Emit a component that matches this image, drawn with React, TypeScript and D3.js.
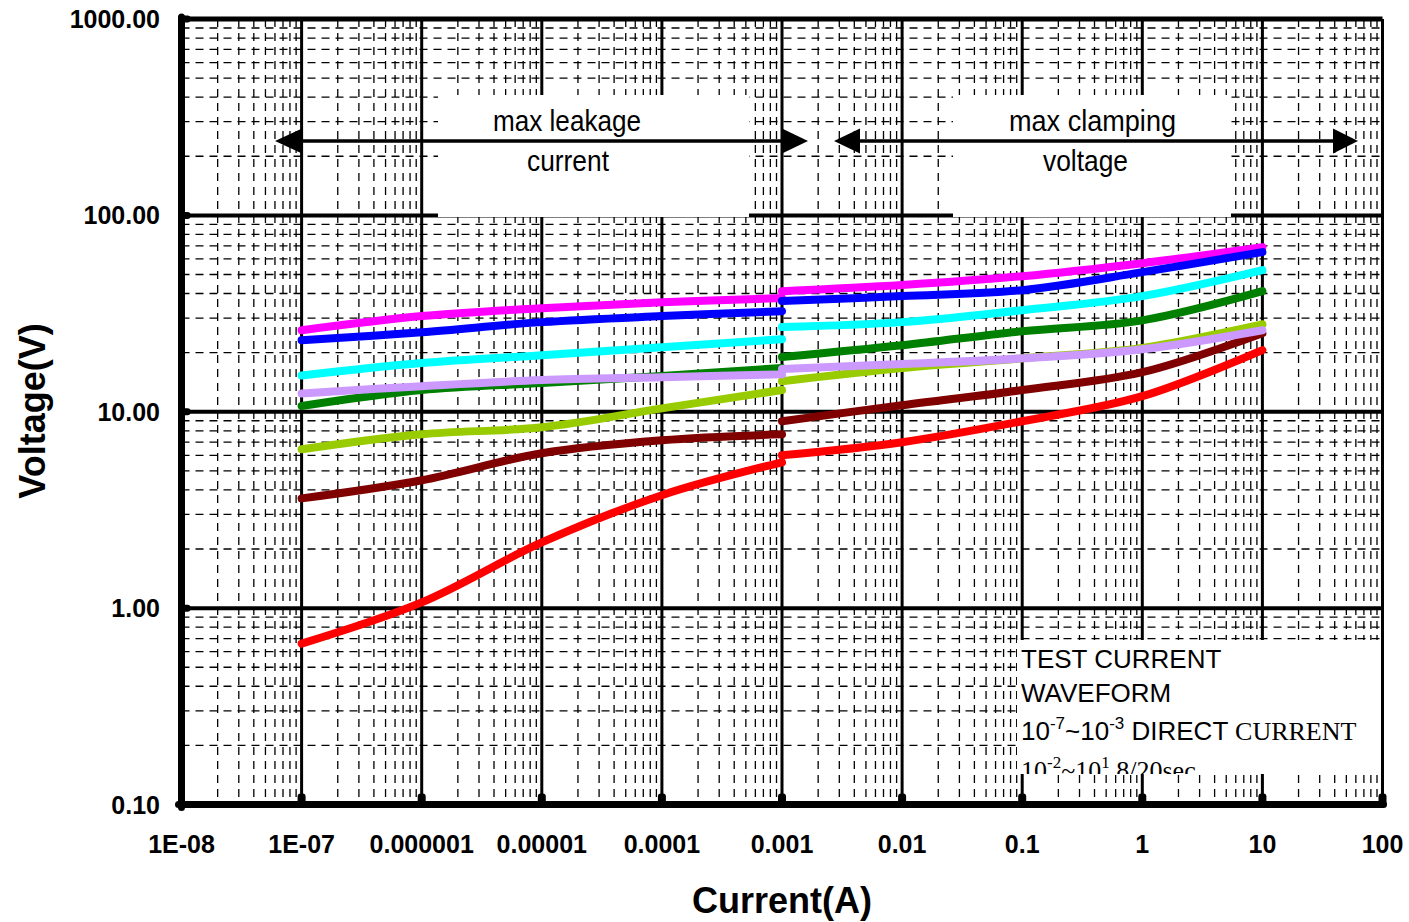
import React from "react";
import * as d3 from "d3";

// ---- data ----
const leakageCurrents = [1e-7, 1e-6, 1e-5, 1e-4, 1e-3];
const clampCurrents = [1e-3, 1e-2, 1e-1, 1, 10];

const seriesNames = ["magenta", "blue", "cyan", "green", "yellowgreen", "darkred", "lavender", "red"];
const seriesColors = ["#FF00FF", "#0000FF", "#00FFFF", "#008000", "#99CC00", "#800000", "#CC99FF", "#FF0000"];

const leakMagenta = [26.0, 30.7, 33.7, 36.1, 37.9];
const clampMagenta = [41.1, 44.2, 49.0, 57.1, 68.8];
const leakBlue = [23.1, 25.4, 28.6, 30.7, 32.5];
const clampBlue = [36.6, 38.8, 41.6, 51.4, 65.0];
const leakCyan = [15.3, 17.7, 19.4, 21.3, 23.4];
const clampCyan = [27.0, 28.6, 32.9, 38.8, 52.6];
const leakGreen = [10.7, 12.9, 14.0, 15.2, 16.7];
const clampGreen = [19.0, 21.8, 25.7, 29.2, 41.1];
const leakYellowGreen = [6.44, 7.68, 8.34, 10.4, 12.9];
const clampYellowGreen = [14.3, 16.7, 18.7, 21.1, 27.9];
const leakDarkRed = [3.62, 4.48, 6.15, 7.16, 7.68];
const clampDarkRed = [8.95, 10.8, 12.9, 15.9, 25.1];
const leakLavender = [12.4, 13.5, 14.5, 15.0, 15.5];
const clampLavender = [16.5, 17.5, 18.7, 20.8, 26.0];
const leakRed = [0.66, 1.07, 2.16, 3.76, 5.53];
const clampRed = [6.0, 7.0, 8.95, 12.0, 20.6];

const leakSeries = [leakMagenta, leakBlue, leakCyan, leakGreen, leakYellowGreen, leakDarkRed, leakLavender, leakRed];
const clampSeries = [clampMagenta, clampBlue, clampCyan, clampGreen, clampYellowGreen, clampDarkRed, clampLavender, clampRed];

const xTickValues = [1e-8, 1e-7, 1e-6, 1e-5, 1e-4, 1e-3, 1e-2, 1e-1, 1, 10, 100];
const xTickLabels = ["1E-08", "1E-07", "0.000001", "0.00001", "0.0001", "0.001", "0.01", "0.1", "1", "10", "100"];
const yTickValues = [0.1, 1, 10, 100, 1000];
const yTickLabels = ["0.10", "1.00", "10.00", "100.00", "1000.00"];

const W = 1409;
const H = 922;

export default function App() {
  const x = d3.scaleLog().domain([1e-8, 100]).range([181.5, 1382.5]);
  const y = d3.scaleLog().domain([0.1, 1000]).range([804.5, 19]);

  const xMinor: number[] = [];
  for (let e = -8; e < 2; e++) for (let i = 2; i <= 9; i++) xMinor.push(i * Math.pow(10, e));
  const yMinor: number[] = [];
  for (let e = -1; e < 3; e++) for (let i = 2; i <= 9; i++) yMinor.push(i * Math.pow(10, e));

  const line = d3
    .line<[number, number]>()
    .x((d) => x(d[0]))
    .y((d) => y(d[1]))
    .curve(d3.curveCatmullRom.alpha(0.5));

  const [x0, x1] = x.range();
  const [yb, yt] = y.range();
  const font = "'Liberation Sans', Arial, sans-serif";
  const serif = "'Liberation Serif', 'Times New Roman', serif";

  return (
    <svg width={W} height={H} style={{ position: "absolute", left: 0, top: 0, background: "#fff" }}>
      <defs>
        <clipPath id="legclip">
          <rect x={1017} y={640} width={365} height={134} />
        </clipPath>
      </defs>
      <rect x={0} y={0} width={W} height={H} fill="#fff" />
      {/* minor grid */}
      <g stroke="#000" strokeWidth={1.3} strokeDasharray="8,6">
        {xMinor.map((v, i) => (
          <line key={"xm" + i} x1={x(v)} x2={x(v)} y1={yt} y2={yb} />
        ))}
        {yMinor.map((v, i) => (
          <line key={"ym" + i} x1={x0} x2={x1} y1={y(v)} y2={y(v)} />
        ))}
      </g>
      {/* major grid */}
      <g stroke="#000">
        {xTickValues.slice(1, -1).map((v, i) => (
          <line key={"xM" + i} x1={x(v)} x2={x(v)} y1={yt} y2={yb} strokeWidth={3} />
        ))}
        {yTickValues.slice(1, -1).map((v, i) => (
          <line key={"yM" + i} x1={x0} x2={x1} y1={y(v)} y2={y(v)} strokeWidth={4} />
        ))}
      </g>
      {/* white annotation boxes */}
      <rect x={438} y={95} width={311} height={122} fill="#fff" />
      <rect x={953} y={95} width={278} height={122} fill="#fff" />
      <rect x={1017} y={640} width={365} height={134} fill="#fff" />
      {/* borders */}
      <line x1={x0} x2={x1} y1={yt} y2={yt} stroke="#000" strokeWidth={5} />
      <line x1={x1} x2={x1} y1={yt} y2={yb} stroke="#000" strokeWidth={3} />
      <line x1={x0} x2={x0} y1={yt - 2} y2={yb + 3} stroke="#000" strokeWidth={7} strokeLinecap="round" />
      <line x1={x0 - 3} x2={x1 + 1} y1={yb} y2={yb} stroke="#000" strokeWidth={7} strokeLinecap="round" />
      {/* axis tick blobs */}
      {xTickValues.slice(1).map((v, i) => (
        <rect key={"xb" + i} x={x(v) - 4} y={yb - 11} width={8} height={12} rx={3} fill="#000" />
      ))}
      {yTickValues.slice(1).map((v, i) => (
        <rect key={"yb" + i} x={x0} y={y(v) - 3.5} width={9} height={7} rx={3} fill="#000" />
      ))}
      {/* series */}
      <g fill="none" strokeWidth={8} strokeLinecap="round" strokeLinejoin="round">
        {seriesNames.map((n, si) => (
          <g key={n} stroke={seriesColors[si]}>
            <path d={line(leakageCurrents.map((c, i) => [c, leakSeries[si][i]] as [number, number])) || ""} />
            <path d={line(clampCurrents.map((c, i) => [c, clampSeries[si][i]] as [number, number])) || ""} />
          </g>
        ))}
      </g>
      {/* arrows */}
      <g fill="#000" stroke="#000">
        <line x1={300} x2={784} y1={141} y2={141} strokeWidth={3.5} />
        <polygon points="275,141 302,128.5 302,153.5" stroke="none" />
        <polygon points="808,141 782,128.5 782,153.5" stroke="none" />
        <line x1={858} x2={1335} y1={141} y2={141} strokeWidth={3.5} />
        <polygon points="834,141 860,128.5 860,153.5" stroke="none" />
        <polygon points="1358,141 1333,128.5 1333,153.5" stroke="none" />
      </g>
      {/* annotation text */}
      <g fontFamily={font} fontSize={30} fill="#000">
        <text x={493} y={131} textLength={148} lengthAdjust="spacingAndGlyphs">max leakage</text>
        <text x={527} y={171} textLength={82} lengthAdjust="spacingAndGlyphs">current</text>
        <text x={1009} y={131} textLength={167} lengthAdjust="spacingAndGlyphs">max clamping</text>
        <text x={1043} y={171} textLength={85} lengthAdjust="spacingAndGlyphs">voltage</text>
      </g>
      {/* legend box text */}
      <g clipPath="url(#legclip)" fill="#000" fontSize={26}>
        <text x={1021} y={668} fontFamily={font}>TEST CURRENT</text>
        <text x={1021} y={702} fontFamily={font}>WAVEFORM</text>
        <text x={1021} y={740} fontFamily={font}>
          10<tspan dy={-11} fontSize={17}>-7</tspan>
          <tspan dy={11}>~10</tspan>
          <tspan dy={-11} fontSize={17}>-3</tspan>
          <tspan dy={11}> DIRECT </tspan>
          <tspan fontFamily={serif}>CURRENT</tspan>
        </text>
        <text x={1021} y={779} fontFamily={serif}>
          10<tspan dy={-11} fontSize={17}>-2</tspan>
          <tspan dy={11}>~10</tspan>
          <tspan dy={-11} fontSize={17}>1</tspan>
          <tspan dy={11}> 8/20sec</tspan>
        </text>
      </g>
      {/* tick labels */}
      <g fontFamily={font} fontWeight="bold" fontSize={25} fill="#000">
        {yTickValues.map((v, i) => (
          <text key={"yl" + i} x={160} y={y(v) + 9} textAnchor="end">
            {yTickLabels[i]}
          </text>
        ))}
        {xTickValues.map((v, i) => (
          <text key={"xl" + i} x={x(v)} y={853} textAnchor="middle">
            {xTickLabels[i]}
          </text>
        ))}
      </g>
      {/* axis titles */}
      <text x={782} y={913} textAnchor="middle" fontFamily={font} fontWeight="bold" fontSize={36}>
        Current(A)
      </text>
      <text
        transform="translate(45,411) rotate(-90)"
        textAnchor="middle"
        fontFamily={font}
        fontWeight="bold"
        fontSize={36}
      >
        Voltage(V)
      </text>
    </svg>
  );
}
